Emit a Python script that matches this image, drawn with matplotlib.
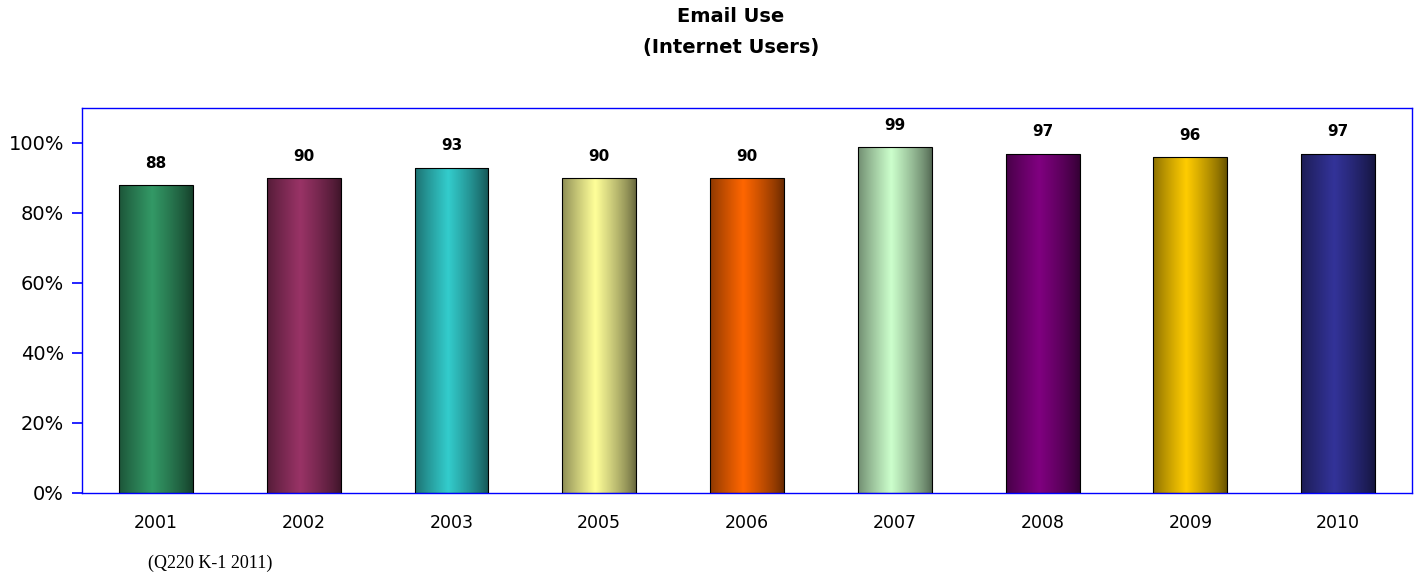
import numpy as np
import matplotlib.pyplot as plt
from matplotlib.colors import to_rgb

years = ['2001', '2002', '2003', '2005', '2006', '2007', '2008', '2009', '2010']
values = [88, 90, 93, 90, 90, 99, 97, 96, 97]
colors = ['#339966', '#993366', '#33CCCC', '#FFFF99', '#FF6600',
          '#CCFFCC', '#800080', '#FFCC00', '#333399']

fig = plt.figure(figsize=(14.16, 5.75), dpi=100)
ax = fig.add_axes([82 / 1416, 1 - 493 / 575, 1330 / 1416, 385 / 575])

x = np.arange(len(years))
bars = ax.bar(x, values, width=0.5, color='none', edgecolor='black', linewidth=0.8, zorder=3)

# horizontal shading: dark at the edges, full colour near the middle
t = np.linspace(0, 1, 200)
shade = 0.4 + 0.6 * np.clip(1 - np.abs(t - 0.45) / 0.55, 0, 1) ** 0.8
for b, c in zip(bars, colors):
    rgb = np.array(to_rgb(c))
    img = (shade[:, None] * rgb[None, :])[None, :, :]
    x0, w, h = b.get_x(), b.get_width(), b.get_height()
    im = ax.imshow(img, extent=[x0, x0 + w, 0, h], aspect='auto', zorder=2)
    im.set_clip_path(b)

for xi, v in zip(x, values):
    ax.text(xi, v + 4, str(v), ha='center', va='bottom', fontsize=11, fontweight='bold')

ax.set_xlim(-0.5, len(years) - 0.5)
ax.set_ylim(0, 110)
ax.set_yticks(range(0, 101, 20))
ax.set_yticklabels([f'{v}%' for v in range(0, 101, 20)], fontsize=14)
ax.set_xticks(x)
ax.set_xticklabels(years, fontsize=12.5)
ax.tick_params(axis='x', length=0, pad=15)
ax.tick_params(axis='y', length=7, color='blue', width=1.2, pad=6)
for s in ax.spines.values():
    s.set_color('blue')
    s.set_linewidth(1)

fig.text(0.516, 1 - 17 / 575, 'Email Use', ha='center', va='center', fontsize=14, fontweight='bold')
fig.text(0.516, 1 - 48 / 575, '(Internet Users)', ha='center', va='center', fontsize=14, fontweight='bold')
fig.text(148 / 1416, 1 - 563 / 575, '(Q220 K-1 2011)', ha='left', va='center', fontsize=13,
         family='Liberation Serif')

fig.savefig('out.png', dpi=100)
